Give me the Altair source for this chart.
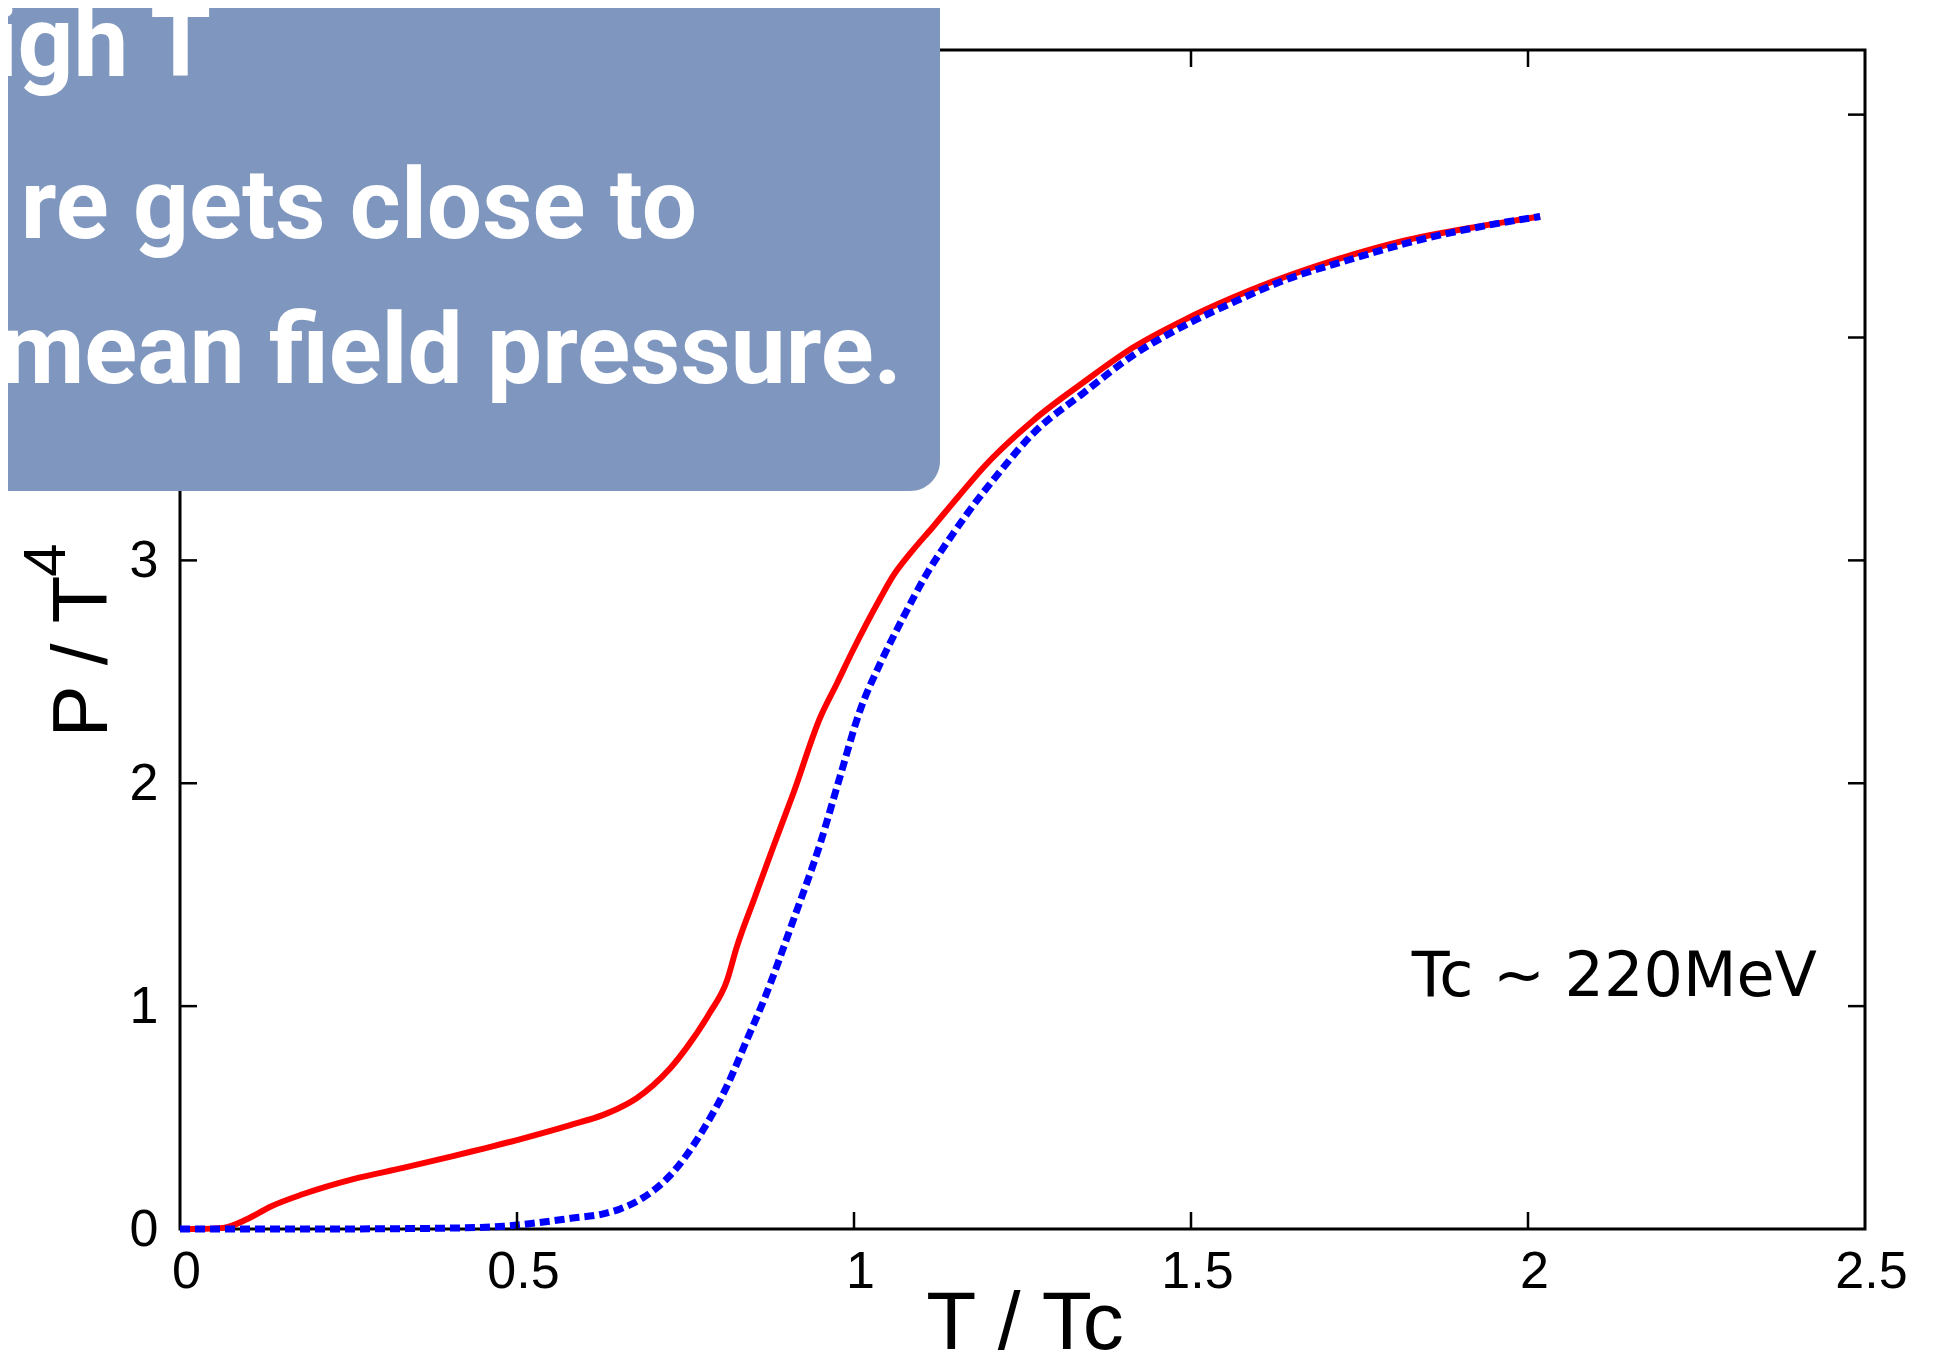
import altair as alt
import pandas as pd

# ---- data ----
t_red = [0, 0.03, 0.064, 0.1, 0.134, 0.183, 0.257, 0.331, 0.405, 0.5, 0.579, 0.628, 0.653,
         0.678, 0.702, 0.727, 0.752, 0.786, 0.811, 0.826, 0.853, 0.88, 0.91, 0.95, 0.975,
         0.999, 1.039, 1.058, 1.083, 1.117, 1.153, 1.192, 1.266, 1.34, 1.414, 1.488, 1.562,
         1.637, 1.711, 1.81, 1.934, 2.018]
p_red = [0, 0, 0.005, 0.045, 0.10, 0.157, 0.224, 0.274, 0.327, 0.399, 0.466, 0.512, 0.545,
         0.588, 0.645, 0.72, 0.815, 0.97, 1.11, 1.265, 1.49, 1.713, 1.955, 2.296, 2.45,
         2.60, 2.83, 2.93, 3.03, 3.15, 3.28, 3.417, 3.628, 3.798, 3.955, 4.076, 4.179,
         4.269, 4.345, 4.43, 4.502, 4.543]

t_blue = [0, 0.1, 0.2, 0.3, 0.4, 0.48, 0.53, 0.58, 0.628, 0.653, 0.687, 0.727, 0.776, 0.811,
          0.841, 0.868, 0.91, 0.95, 0.979, 1.009, 1.039, 1.073, 1.108, 1.147, 1.168, 1.217,
          1.266, 1.34, 1.414, 1.488, 1.562, 1.637, 1.736, 1.835, 1.934, 2.018]
p_blue = [0, 0, 0, 0.001, 0.004, 0.012, 0.028, 0.048, 0.068, 0.09, 0.14, 0.24, 0.444, 0.638,
          0.848, 1.04, 1.386, 1.731, 2.027, 2.327, 2.538, 2.744, 2.94, 3.12, 3.21, 3.40,
          3.57, 3.75, 3.92, 4.05, 4.157, 4.255, 4.35, 4.435, 4.50, 4.543]

x_label_values = [0, 0.5, 1, 1.5, 2, 2.5]
y_label_values = [0, 1, 2, 3, 4, 5]
x_ticks = [0.5, 1, 1.5, 2]
y_ticks = [1, 2, 3, 4, 5]

x_title = "T / Tc"
y_title = "P / T"
y_title_sup = "4"
note = "Tc \u223c 220MeV"
overlay_lines = ["igh T", "re gets close to", "mean field pressure."]

# ---- layout ----
W, H = 1685, 1179
TICK = 17

xscale = alt.Scale(domain=[0, 2.5], nice=False, zero=False)
yscale = alt.Scale(domain=[0, 5.29], nice=False, zero=False)

red_df = pd.DataFrame({"T": t_red, "P": p_red})
blue_df = pd.DataFrame({"T": t_blue, "P": p_blue})
xt_df = pd.DataFrame({"T": x_ticks})
yt_df = pd.DataFrame({"P": y_ticks})
one = pd.DataFrame({"k": [0]})

xaxis = alt.Axis(values=x_label_values, format="~g", title=x_title, labelPadding=17,
                 labelOffset=6,
                 titleX=W / 2 + 2, titleY=119, titleBaseline="alphabetic", titleAlign="center",
                 titleFontSize=82)
yaxis = alt.Axis(values=y_label_values, format="~g", title=y_title, labelPadding=22,
                 titleAngle=270, titleX=-74, titleY=606, titleBaseline="alphabetic",
                 titleAlign="center", titleFontSize=78)

red = alt.Chart(red_df).mark_line(color="#ff0000", strokeWidth=6, interpolate="monotone").encode(
    x=alt.X("T:Q", scale=xscale, axis=xaxis),
    y=alt.Y("P:Q", scale=yscale, axis=yaxis),
)
blue = alt.Chart(blue_df).mark_line(color="#0000ff", strokeWidth=7, strokeDash=[10, 5],
                                    interpolate="monotone").encode(
    x=alt.X("T:Q", scale=xscale),
    y=alt.Y("P:Q", scale=yscale),
)

tick_style = dict(color="black", strokeWidth=2.5)
tick_bottom = alt.Chart(xt_df).mark_rule(**tick_style).encode(
    x=alt.X("T:Q", scale=xscale), y=alt.value(H), y2=alt.value(H - TICK))
tick_top = alt.Chart(xt_df).mark_rule(**tick_style).encode(
    x=alt.X("T:Q", scale=xscale), y=alt.value(0), y2=alt.value(TICK))
tick_left = alt.Chart(yt_df).mark_rule(**tick_style).encode(
    y=alt.Y("P:Q", scale=yscale), x=alt.value(0), x2=alt.value(TICK))
tick_right = alt.Chart(yt_df).mark_rule(**tick_style).encode(
    y=alt.Y("P:Q", scale=yscale), x=alt.value(W - TICK), x2=alt.value(W))

note_txt = alt.Chart(one).mark_text(text=note, font="DejaVu Sans", fontSize=62, align="right",
                                    baseline="alphabetic", color="black").encode(
    x=alt.value(1637), y=alt.value(946))

sup_txt = alt.Chart(one).mark_text(text=y_title_sup, font="Liberation Sans", fontSize=60,
                                   angle=270, align="center", baseline="alphabetic",
                                   color="black").encode(
    x=alt.value(-115), y=alt.value(510))

box = alt.Chart(one).mark_rect(color="#7f97be", cornerRadius=30).encode(
    x=alt.value(-215), x2=alt.value(760), y=alt.value(-90), y2=alt.value(441))

line_pos = [(31, 26), (517, 188), (722, 333)]
ov_layers = []
for txt, (px, py) in zip(overlay_lines, line_pos):
    ov_layers.append(
        alt.Chart(one).mark_text(text=txt, font="Roboto", fontWeight="bold", fontSize=98,
                                 align="right", baseline="alphabetic", color="white").encode(
            x=alt.value(px), y=alt.value(py))
    )

chart = alt.layer(
    red, blue, tick_bottom, tick_top, tick_left, tick_right, note_txt, sup_txt, box, *ov_layers
).properties(
    width=W, height=H,
    padding={"left": 172, "top": 42, "right": 73, "bottom": 126},
    autosize=alt.AutoSizeParams(type="none"),
    background="white",
).configure_view(
    stroke="black", strokeWidth=3
).configure_axis(
    domain=False, ticks=False, tickSize=0, grid=False, labelFlush=False,
    labelFont="Liberation Sans", labelFontSize=52, labelColor="black",
    titleFont="Liberation Sans", titleFontWeight="normal", titleColor="black",
)

chart.save("out.html", embed_options={"renderer": "svg", "actions": False})
